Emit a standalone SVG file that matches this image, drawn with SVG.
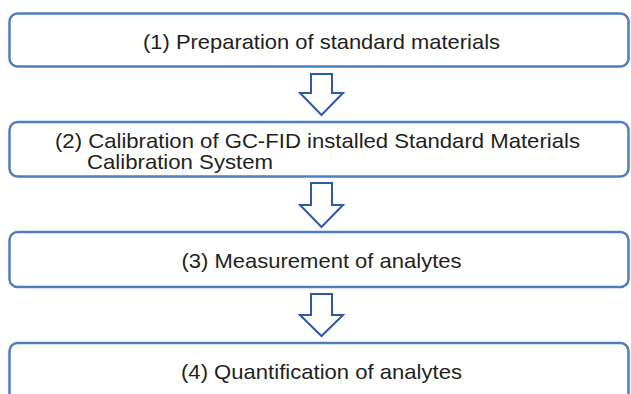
<svg xmlns="http://www.w3.org/2000/svg" width="631" height="394" viewBox="0 0 631 394">
<style>
.box{fill:#ffffff;stroke:#4f7fbb;stroke-width:2.5}
.arr{fill:#ffffff;stroke:#2f58a6;stroke-width:2;stroke-linejoin:miter}
.t{font-family:"Liberation Sans",Arial,sans-serif;font-size:21px;fill:#231f20}
.c{text-anchor:middle}
</style>
<rect width="631" height="394" fill="#ffffff"/>
<g id="connectors">
<path class="arr" d="M311,74 H332 V93 H343 L321.5,115 L300,93 H311 Z"/>
<path class="arr" d="M311,183 H332 V205 H343 L321.5,227 L300,205 H311 Z"/>
<path class="arr" d="M311,294 H332 V315 H343 L321.5,336 L300,315 H311 Z"/>
</g>
<g id="node1">
<rect class="box" x="9.5" y="13.5" width="619" height="53" rx="8"/>
<text class="t c" x="321.5" y="49" textLength="357" lengthAdjust="spacingAndGlyphs">(1) Preparation of standard materials</text>
</g>
<g id="node2">
<rect class="box" x="9.5" y="122" width="619" height="54.5" rx="8"/>
<text class="t" x="55" y="148" textLength="525" lengthAdjust="spacingAndGlyphs">(2) Calibration of GC-FID installed Standard Materials</text>
<text class="t" x="87" y="169" textLength="186" lengthAdjust="spacingAndGlyphs">Calibration System</text>
</g>
<g id="node3">
<rect class="box" x="9.5" y="232" width="619" height="55" rx="8"/>
<text class="t c" x="321.5" y="268" textLength="280" lengthAdjust="spacingAndGlyphs">(3) Measurement of analytes</text>
</g>
<g id="node4">
<rect class="box" x="9.5" y="343" width="619" height="70" rx="8"/>
<text class="t c" x="321.5" y="379" textLength="281" lengthAdjust="spacingAndGlyphs">(4) Quantification of analytes</text>
</g>
</svg>
